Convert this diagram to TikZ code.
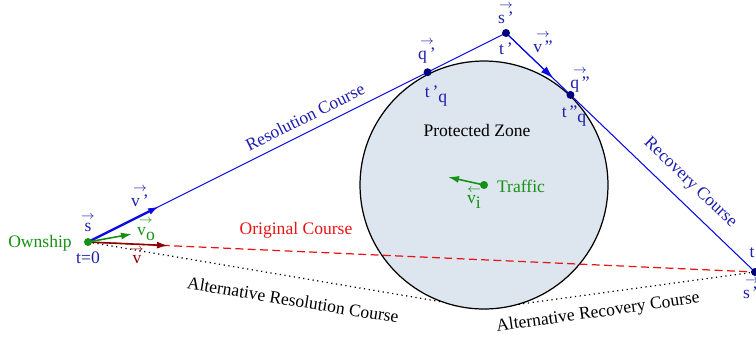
\documentclass[tikz,border=0pt]{standalone}
\usepackage{amsmath}
\usepackage{fontspec}
\setmainfont{Liberation Serif}
\usetikzlibrary{arrows.meta, positioning, calc}
\definecolor{course}{RGB}{10, 10, 225}
\definecolor{labelblue}{RGB}{30, 30, 175}
\definecolor{pointblue}{RGB}{0, 0, 125}
\definecolor{ownship}{RGB}{20, 145, 20}
\definecolor{original}{RGB}{235, 20, 20}
\definecolor{velocity}{RGB}{140, 0, 0}
\definecolor{zonefill}{RGB}{221, 229, 238}
\newcommand{\vlab}[1]{$\stackrel{\rightarrow}{\text{#1}}$}
\newcommand{\lowsub}[1]{\raisebox{-0.6ex}{#1}}
\tikzset{
  font=\normalsize,
  pointdot/.style={circle, fill=pointblue, inner sep=0pt, minimum size=0.16cm},
  greendot/.style={circle, fill=ownship, inner sep=0pt, minimum size=0.16cm},
  courseline/.style={draw=course, line width=0.6pt},
  velarrow/.style={-{Latex[length=2.2mm, width=1.4mm]}, line width=0.9pt},
  altline/.style={draw=black, dotted, line width=0.7pt},
  origline/.style={draw=original, dash pattern=on 4.5pt off 2.5pt, line width=0.7pt},
  zone/.style={circle, draw=black, fill=zonefill, line width=0.7pt,
    minimum size=4.96cm, inner sep=0pt},
  bluelabel/.style={text=labelblue, inner sep=1pt},
  greenlabel/.style={text=ownship, inner sep=1pt},
  redlabel/.style={text=velocity, inner sep=1pt}
}
\begin{document}
\begin{tikzpicture}[x=0.02cm, y=-0.02cm]
  \useasboundingbox (0,0) rectangle (756,346);

  % Key positions
  \coordinate (own) at (88,242);
  \coordinate (sp) at (506,33);
  \coordinate (spp) at (755,272);
  \coordinate (alt) at (484,309);

  % Alternative courses (behind the zone)
  \draw[altline] (own) -- (alt) -- (spp);

  % Protected zone around the traffic
  \node[zone] (zone) at (484,185) {};
  \node (zonelab) at (477,130) {Protected Zone};

  % Tangent points of the resolution and recovery courses
  \coordinate (qp) at ($(own)!(zone.center)!(sp)$);
  \coordinate (qpp) at ($(sp)!(zone.center)!(spp)$);

  % Original course
  \draw[origline] (own) -- (spp);

  % Resolution and recovery courses
  \draw[courseline] (own) -- (sp) -- (spp);
  \draw[courseline, velarrow, line width=1.3pt] (own) -- ($(own)!0.17!(sp)$);
  \draw[courseline, -{Latex[length=2.6mm, width=1.6mm]}] (sp) -- ($(sp)!0.19!(spp)$);

  % Ownship velocities
  \draw[velocity, velarrow] (own) -- ($(own)!0.12!(spp)$);
  \draw[ownship, velarrow] (own) -- (132,234);

  % Traffic velocity
  \draw[ownship, velarrow] (zone.center) -- (448,177);

  % Points
  \node[greendot] (owndot) at (own) {};
  \node[greendot] (trafdot) at (zone.center) {};
  \node[pointdot] (spdot) at (sp) {};
  \node[pointdot] (qpdot) at (qp) {};
  \node[pointdot] (qppdot) at (qpp) {};
  \node[pointdot] (sppdot) at (spp) {};

  % Ownship labels
  \node[greenlabel] (ownlab) at (40,243) {Ownship};
  \node[bluelabel] (slab) at (88,222) {\vlab{s}};
  \node[bluelabel] (t0lab) at (88,258) {t=0};
  \node[bluelabel] (vplab) at (140,196) {\vlab{v\,'}};
  \node[greenlabel] (volab) at (146,229) {\vlab{v\lowsub{o}}};
  \node[redlabel] (vlab) at (137,255) {\vlab{v}};
  \node[text=original, inner sep=1pt] (origlab) at (296,230) {Original Course};
  \node[bluelabel, rotate=26.5] (reslab) at (305,117) {Resolution Course};

  % Maneuver point labels
  \node[bluelabel] (splab) at (506,13) {\vlab{s\,'}};
  \node[bluelabel] (tplab) at (506,49) {t\,'};
  \node[bluelabel] (vpplab) at (543,42) {\vlab{v\,''}};
  \node[bluelabel] (qplab) at (427,51) {\vlab{q\,'}};
  \node[bluelabel] (tqplab) at (436,96) {t\,'\lowsub{q}};
  \node[bluelabel] (qpplab) at (580,80) {\vlab{q\,''}};
  \node[bluelabel] (tqpplab) at (574,116) {t\,''\lowsub{q}};
  \node[bluelabel, rotate=-43.8] (reclab) at (690,183) {Recovery Course};
  \node[bluelabel] (tlab) at (752,253) {t};
  \node[bluelabel] (spplab) at (752,288) {\vlab{s\,''}};

  % Traffic labels
  \node[greenlabel] (traflab) at (521,186) {Traffic};
  \node[greenlabel] (vilab) at (474,197) {$\stackrel{\leftarrow}{\text{v\lowsub{i}}}$};

  % Alternative course labels
  \node[rotate=-9.3] (altreslab) at (293,300) {Alternative Resolution Course};
  \node[rotate=8] (altreclab) at (598,313) {Alternative Recovery Course};

\end{tikzpicture}
\end{document}
